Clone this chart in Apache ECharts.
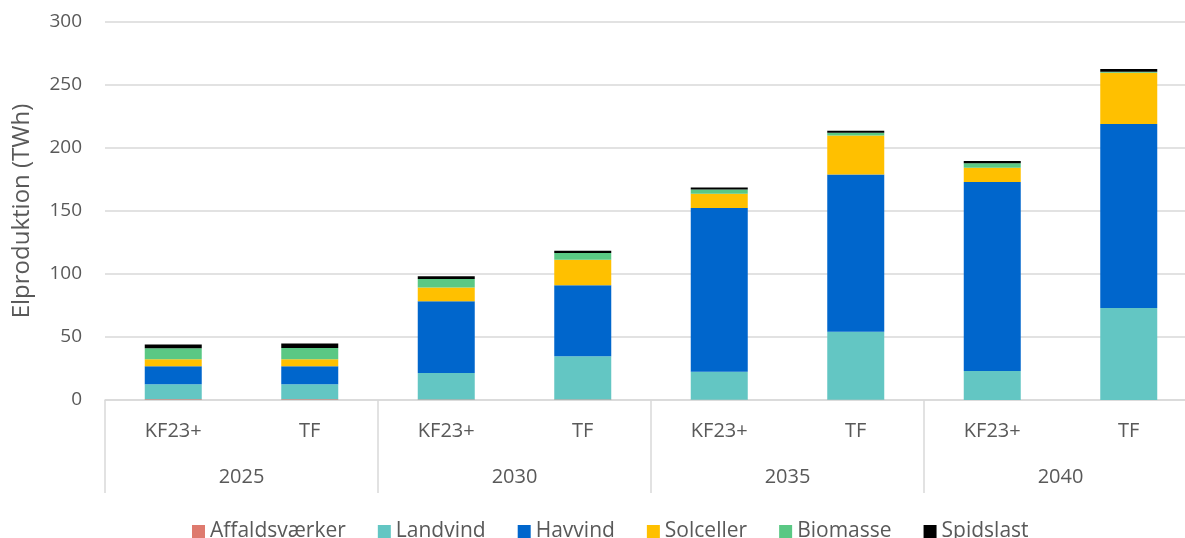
<!DOCTYPE html>
<html>
<head>
<meta charset="utf-8">
<script src="https://cdn.jsdelivr.net/npm/echarts@6/dist/echarts.min.js"></script>
<style>
  html, body { margin: 0; padding: 0; background: #fff; }
  #chart { width: 1185px; height: 538px; }
</style>
</head>
<body>
<div id="chart"></div>
<script>
  // kategorier
  var scenarios = ['KF23+', 'TF', 'KF23+', 'TF', 'KF23+', 'TF', 'KF23+', 'TF'];
  var years = ['2025', '2030', '2035', '2040'];

  // elproduktion (TWh)
  var affald = [0.5, 0.5, 0.3, 0.3, 0.2, 0.2, 0, 0];
  var landvind = [12, 12, 21.2, 34.4, 22.2, 54, 23, 73];
  var havvind = [14.3, 14.3, 56.8, 56.3, 129.9, 124.8, 150, 146];
  var solceller = [5.5, 5.5, 10.9, 20.4, 11.4, 31, 11.4, 40.7];
  var biomasse = [8.7, 9, 6.9, 5.3, 3.4, 2.1, 3.5, 0.8];
  var spidslast = [3, 3.5, 2.1, 1.8, 1.6, 1.6, 1.8, 2.1];

  var textColor = '#595959';
  var lineColor = '#d9d9d9';
  var font = 'Open Sans';

  var chart = echarts.init(document.getElementById('chart'));

  function bar(name, data, color) {
    return {
      name: name,
      type: 'bar',
      stack: 'total',
      barWidth: 57,
      data: data,
      itemStyle: { color: color },
      emphasis: { disabled: true }
    };
  }

  var option = {
    animation: false,
    textStyle: { fontFamily: font },
    grid: { left: 105, right: -12, top: 22, bottom: 138, outerBoundsMode: 'none' },
    legend: {
      top: 516,
      left: 187,
      icon: 'rect',
      itemWidth: 13,
      itemHeight: 13,
      itemGap: 32,
      textStyle: { color: textColor, fontSize: 21, fontFamily: font },
      data: ['Affaldsværker', 'Landvind', 'Havvind', 'Solceller', 'Biomasse', 'Spidslast']
    },
    xAxis: [
      {
        type: 'category',
        data: scenarios,
        axisLine: { lineStyle: { color: lineColor, width: 1.5 } },
        axisTick: { show: false },
        axisLabel: { color: textColor, fontSize: 20, margin: 21 }
      },
      {
        type: 'category',
        data: years,
        position: 'bottom',
        axisLine: { show: false },
        axisTick: { show: true, length: 93, lineStyle: { color: lineColor, width: 1.5 } },
        axisLabel: { color: textColor, fontSize: 20, margin: 67 }
      }
    ],
    yAxis: {
      type: 'value',
      min: 0,
      max: 300,
      interval: 50,
      name: 'Elproduktion (TWh)',
      nameLocation: 'middle',
      nameGap: 71,
      nameTextStyle: { color: textColor, fontSize: 24 },
      axisLine: { show: false },
      axisTick: { show: false },
      axisLabel: { color: textColor, fontSize: 19, margin: 23 },
      splitLine: { lineStyle: { color: lineColor, width: 1.5 } }
    },
    series: [
      bar('Affaldsværker', affald, '#DE7A6E'),
      bar('Landvind', landvind, '#63C6C3'),
      bar('Havvind', havvind, '#0066CC'),
      bar('Solceller', solceller, '#FFC000'),
      bar('Biomasse', biomasse, '#5AC884'),
      bar('Spidslast', spidslast, '#000000')
    ]
  };

  chart.setOption(option);
</script>
</body>
</html>
